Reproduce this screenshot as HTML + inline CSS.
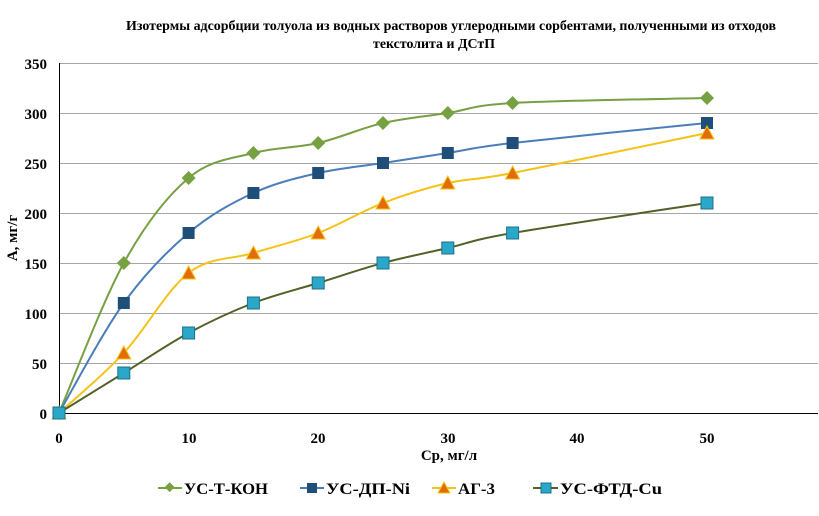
<!DOCTYPE html><html><head><meta charset="utf-8"><style>body{margin:0;background:#fff}svg{display:block;font-family:"Liberation Serif",serif;font-weight:bold}</style></head><body>
<svg id="s" width="819" height="516" viewBox="0 0 819 516">
<text x="126" y="30" font-size="14" textLength="650" lengthAdjust="spacingAndGlyphs">Изотермы адсорбции толуола из водных растворов углеродными сорбентами, полученными из отходов</text>
<text x="373" y="48" font-size="14" textLength="122" lengthAdjust="spacingAndGlyphs">текстолита и ДСтП</text>
<g stroke="#a6a6a6" stroke-width="1">
<line x1="59" x2="818" y1="63.5" y2="63.5"/><line x1="59" x2="818" y1="113.5" y2="113.5"/><line x1="59" x2="818" y1="163.5" y2="163.5"/><line x1="59" x2="818" y1="213.5" y2="213.5"/><line x1="59" x2="818" y1="263.5" y2="263.5"/><line x1="59" x2="818" y1="313.5" y2="313.5"/><line x1="59" x2="818" y1="363.5" y2="363.5"/></g>
<g stroke="#000" stroke-width="1"><line x1="59.5" y1="63" x2="59.5" y2="413"/><line x1="59" y1="413.5" x2="818" y2="413.5"/></g>
<g font-size="15" text-anchor="end"><text x="47" y="69">350</text><text x="47" y="119">300</text><text x="47" y="169">250</text><text x="47" y="219">200</text><text x="47" y="269">150</text><text x="47" y="319">100</text><text x="47" y="369">50</text><text x="47" y="419">0</text></g>
<g font-size="15" text-anchor="middle"><text x="59" y="443">0</text><text x="189" y="443">10</text><text x="318" y="443">20</text><text x="448" y="443">30</text><text x="577" y="443">40</text><text x="707" y="443">50</text></g>
<text x="449" y="460" font-size="15" text-anchor="middle">Ср, мг/л</text>
<text transform="translate(17,238) rotate(-90)" font-size="15" text-anchor="middle">А, мг/г</text>
<g id="g"></g>
<g font-size="16">
<line x1="158" x2="182" y1="488" y2="488" stroke="#77a043" stroke-width="2"/><rect x="166" y="484" width="7" height="7" transform="rotate(45 170 487.5)" fill="#77a043"/><text x="184" y="494" textLength="84" lengthAdjust="spacingAndGlyphs">УС-Т-КОН</text>
<line x1="300" x2="324" y1="488" y2="488" stroke="#4a7ebb" stroke-width="2"/><rect x="307" y="483" width="10" height="10" fill="#1f4e79"/><text x="326" y="494" textLength="84" lengthAdjust="spacingAndGlyphs">УС-ДП-Ni</text>
<line x1="432" x2="456" y1="488" y2="488" stroke="#f5c218" stroke-width="2"/><polygon points="444,482 450,493 438,493" fill="#e36c0a" stroke="#f5c218"/><text x="458" y="494" textLength="37" lengthAdjust="spacingAndGlyphs">АГ-3</text>
<line x1="533" x2="558" y1="488" y2="488" stroke="#4f6228" stroke-width="2"/><rect x="541" y="483" width="10" height="10" fill="#2aa7c9" stroke="#1f6f88"/><text x="560" y="494" textLength="102" lengthAdjust="spacingAndGlyphs">УС-ФТД-Cu</text>
</g>
</svg>
<script>
var X=[0,5,10,15,20,25,30,35,50];
var S=[[[0,150,235,260,270,290,300,310,315],"#77a043","d","#77a043"],
[[0,110,180,220,240,250,260,270,290],"#4a7ebb","s","#1f4e79"],
[[0,60,140,160,180,210,230,240,280],"#f5c218","t","#e36c0a"],
[[0,40,80,110,130,150,165,180,210],"#4f6228","x","#2aa7c9"]];
var g=document.getElementById("g"),h="";
S.forEach(function(s){var p=X.map(function(x,i){return[59+x*12.96,413-s[0][i]]});
var d="M"+p[0];for(var i=0;i<p.length-1;i++){var a=p[i-1]||p[i],b=p[i],c=p[i+1],e=p[i+2]||c;var t=0.5/3;
d+="C"+(b[0]+(c[0]-a[0])*t)+","+(b[1]+(c[1]-a[1])*t)+" "+(c[0]-(e[0]-b[0])*t)+","+(c[1]-(e[1]-b[1])*t)+" "+c;}
h+='<path d="'+d+'" fill="none" stroke="'+s[1]+'" stroke-width="2"/>';
p.forEach(function(q){var x=q[0],y=q[1];
if(s[2]=="d")h+='<polygon points="'+x+','+(y-7)+' '+(x+7)+','+y+' '+x+','+(y+7)+' '+(x-7)+','+y+'" fill="#77a043"/>';
if(s[2]=="s")h+='<rect x="'+(x-6)+'" y="'+(y-6)+'" width="12" height="12" fill="#1f4e79"/>';
if(s[2]=="t")h+='<polygon points="'+x+','+(y-7)+' '+(x+7)+','+(y+6)+' '+(x-7)+','+(y+6)+'" fill="#e36c0a" stroke="#f5c218"/>';
if(s[2]=="x")h+='<rect x="'+(x-6)+'" y="'+(y-6)+'" width="12" height="12" fill="#2aa7c9" stroke="#1f6f88"/>';});});
g.innerHTML=h;
</script>
</body></html>
